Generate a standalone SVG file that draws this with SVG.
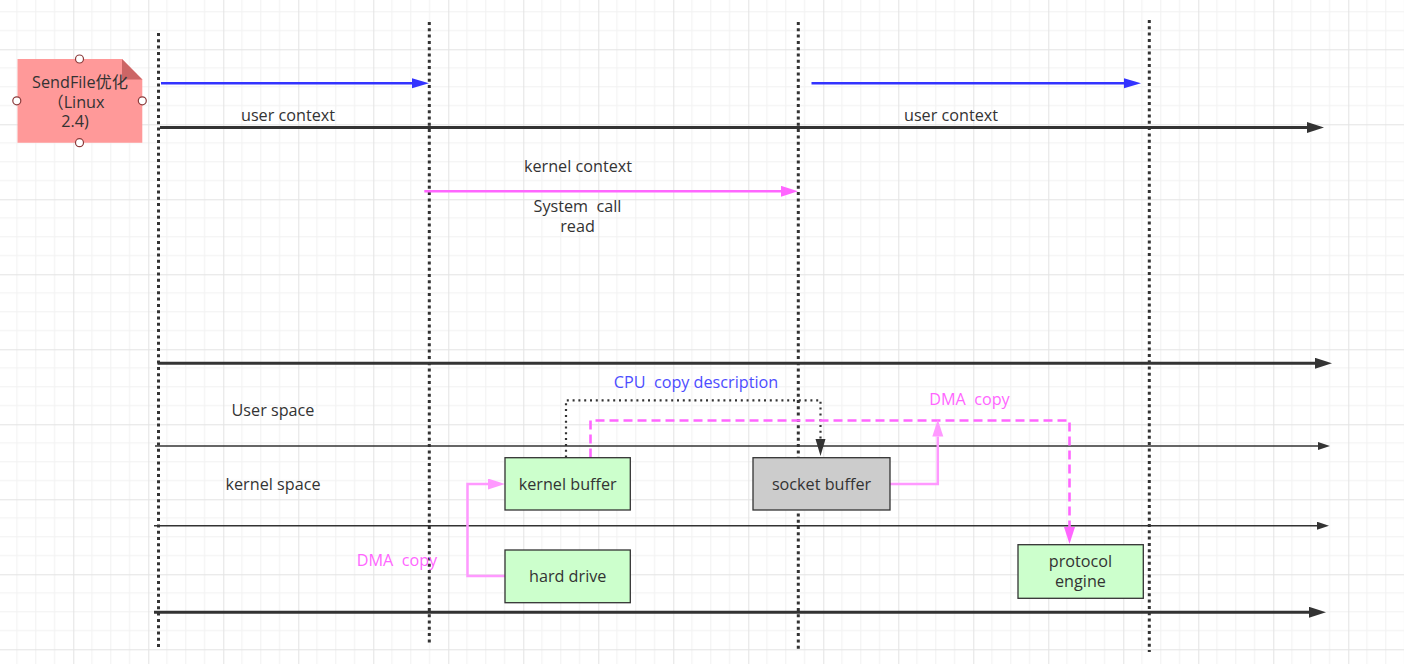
<svg xmlns="http://www.w3.org/2000/svg" width="1404" height="664" viewBox="0 0 1404 664">
<style>
text{font-family:"Open Sans","Noto Sans","Noto Sans CJK SC",sans-serif;font-size:16.2px;fill:#333;text-anchor:middle;dominant-baseline:central;white-space:pre}
.life{stroke:#333;stroke-width:3;stroke-dasharray:3 3.3;fill:none}
.thick{stroke:#333;stroke-width:3;fill:none}
.thin{stroke:#333;stroke-width:1.5;fill:none}
.box{stroke:#333;stroke-width:1.3}
.handle{fill:#fff;stroke:#8b3a3a;stroke-width:1.2}
</style>
<defs>
<pattern id="grid" x="73.3" y="49.3" width="75" height="75" patternUnits="userSpaceOnUse">
<path d="M18.75 0V75M37.5 0V75M56.25 0V75M0 18.75H75M0 37.5H75M0 56.25H75" stroke="#f1f1f1" stroke-width="1" fill="none"/>
<path d="M0.5 0V75M0 0.5H75" stroke="#e3e3e3" stroke-width="1" fill="none"/>
</pattern>
<marker id="aBig" markerUnits="userSpaceOnUse" markerWidth="18" markerHeight="12" refX="0" refY="5.5" orient="auto"><path d="M0,0L17,5.5L0,11z" fill="#333"/></marker>
<marker id="aSmall" markerUnits="userSpaceOnUse" markerWidth="13" markerHeight="9" refX="0" refY="4" orient="auto"><path d="M0,0L12,4L0,8z" fill="#333"/></marker>
<marker id="aBlue" markerUnits="userSpaceOnUse" markerWidth="18" markerHeight="11" refX="0" refY="5" orient="auto"><path d="M0,0L17,5L0,10z" fill="#3333ff"/></marker>
<marker id="aPink" markerUnits="userSpaceOnUse" markerWidth="18" markerHeight="12" refX="0" refY="5.5" orient="auto"><path d="M0,0L17,5.5L0,11z" fill="#ff66ff"/></marker>
<marker id="aLPink" markerUnits="userSpaceOnUse" markerWidth="18" markerHeight="12" refX="0" refY="5.5" orient="auto"><path d="M0,0L17,5.5L0,11z" fill="#ff99ff"/></marker>
<marker id="aDot" markerUnits="userSpaceOnUse" markerWidth="18" markerHeight="11" refX="0" refY="5" orient="auto"><path d="M0,0L17,5L0,10z" fill="#333"/></marker>
</defs>
<rect width="1404" height="664" fill="#fff"/>
<rect width="1404" height="664" fill="url(#grid)"/>

<g id="lifelines">
<line class="life" x1="158.5" y1="33" x2="158.5" y2="648"/>
<line class="life" x1="429.3" y1="22" x2="429.3" y2="645"/>
<line class="life" x1="798.3" y1="22" x2="798.3" y2="650"/>
<line class="life" x1="1149.3" y1="20" x2="1149.3" y2="652"/>
</g>

<g id="note">
<path d="M17.5 59H122L142.3 79.5V142.7H17.5Z" fill="#ff9999"/>
<path d="M122 59L142.3 79.5H122Z" fill="#cc6666"/>
<text x="80" y="81.5">SendFile优化</text>
<text x="76" y="101.5">（Linux</text>
<text x="75" y="121">2.4)</text>
<circle class="handle" cx="79.5" cy="59" r="4"/>
<circle class="handle" cx="79.5" cy="142.7" r="4"/>
<circle class="handle" cx="16.8" cy="100.8" r="4"/>
<circle class="handle" cx="142.3" cy="100.8" r="4"/>
</g>

<g id="connectors">
<line x1="161" y1="83.3" x2="412" y2="83.3" stroke="#3333ff" stroke-width="2.5" marker-end="url(#aBlue)"/>
<line x1="811.5" y1="83.3" x2="1124" y2="83.3" stroke="#3333ff" stroke-width="2.5" marker-end="url(#aBlue)"/>
<line class="thick" x1="160" y1="127.5" x2="1307" y2="127.5" marker-end="url(#aBig)"/>
<line x1="424.3" y1="191.3" x2="781" y2="191.3" stroke="#ff66ff" stroke-width="2.5" marker-end="url(#aPink)"/>
<line class="thick" x1="157.5" y1="363.3" x2="1315" y2="363.3" marker-end="url(#aBig)"/>
<line class="thin" x1="155" y1="446" x2="1318" y2="446" marker-end="url(#aSmall)"/>
<line class="thin" x1="154" y1="525.7" x2="1317" y2="525.7" marker-end="url(#aSmall)"/>
<line class="thick" x1="154" y1="612.3" x2="1309" y2="612.3" marker-end="url(#aBig)"/>
<path d="M505 576H467.5V484H488" fill="none" stroke="#ff99ff" stroke-width="2.5" marker-end="url(#aLPink)"/>
<path d="M566 457.5V400.3H820.5V439" fill="none" stroke="#333" stroke-width="2.2" stroke-dasharray="2 3.8" marker-end="url(#aDot)"/>
<path d="M590.5 457.5V420.5H1069.5V527" fill="none" stroke="#ff66ff" stroke-width="2.6" stroke-dasharray="9 5" marker-end="url(#aPink)"/>
<path d="M890 484H937.8V436.5" fill="none" stroke="#ff99ff" stroke-width="2.5" marker-end="url(#aLPink)"/>
</g>

<g id="kernel-buffer">
<rect class="box" x="505" y="457.7" width="125.3" height="52.3" fill="#ccffcc"/>
<text x="567.7" y="483.5">kernel buffer</text>
</g>
<g id="hard-drive">
<rect class="box" x="505" y="550" width="125.3" height="52.7" fill="#ccffcc"/>
<text x="567.7" y="575.5">hard drive</text>
</g>
<g id="socket-buffer">
<rect class="box" x="753" y="457.7" width="137" height="52.3" fill="#cccccc"/>
<text x="821.5" y="483.5">socket buffer</text>
</g>
<g id="protocol-engine">
<rect class="box" x="1018" y="544.7" width="125.3" height="53.6" fill="#ccffcc"/>
<text x="1080.5" y="561">protocol</text>
<text x="1080.5" y="580.5">engine</text>
</g>

<g id="labels">
<text x="288" y="114.5">user context</text>
<text x="951" y="114.5">user context</text>
<text x="578" y="165.5">kernel context</text>
<text x="577.5" y="206">System  call</text>
<text x="577.5" y="225.5">read</text>
<text x="273" y="409.5">User space</text>
<text x="273" y="483.5">kernel space</text>
<text x="696" y="382" style="fill:#4d4dff">CPU  copy description</text>
<text x="969.5" y="399" style="fill:#ff66ff">DMA  copy</text>
<text x="397" y="559.5" style="fill:#ff66ff">DMA  copy</text>
</g>
</svg>
